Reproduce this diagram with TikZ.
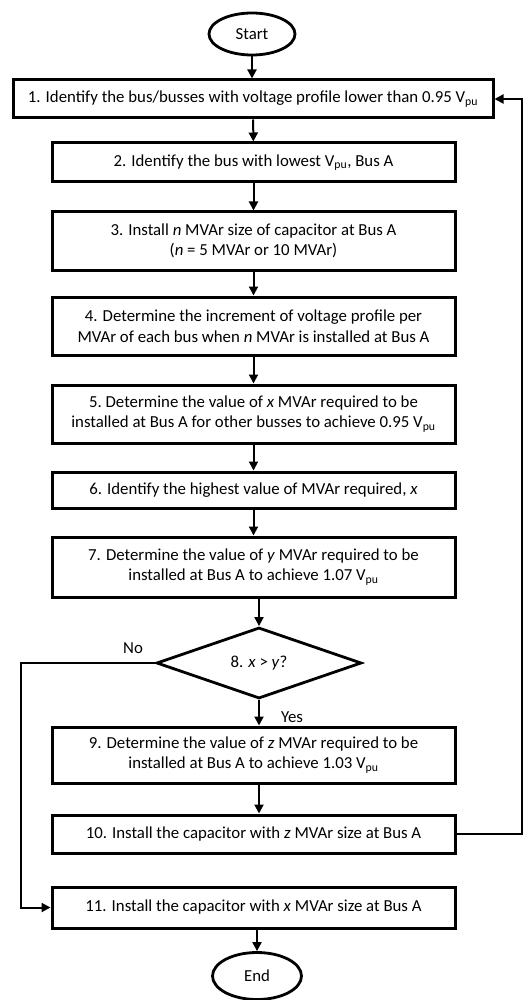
\documentclass[tikz,border=0pt]{standalone}
\usepackage{fontspec}
\setmainfont{Carlito}
\usepackage{tikz}
\usetikzlibrary{arrows.meta,positioning,shapes.geometric}

\begin{document}
\begin{tikzpicture}[x=1pt,y=-1pt,
  stepbox/.style={rectangle,draw=black,line width=3pt,minimum width=403pt,align=center,inner sep=0pt},
  term/.style={ellipse,draw=black,line width=2.8pt,inner sep=0pt},
  decide/.style={diamond,draw=black,line width=2.8pt,minimum width=205pt,minimum height=71pt,inner sep=0pt},
  lab/.style={inner sep=0pt},
  arr/.style={->,line width=2pt},
  >={Triangle[length=9pt,width=9pt]},
  font=\fontsize{16.8}{20.5}\selectfont]

  \useasboundingbox (0,0) rectangle (522,1000);

  % terminals
  \node[term,minimum width=86pt,minimum height=42pt] (start) at (252,34) {Start};
  \node[term,minimum width=89pt,minimum height=47pt] (end) at (257,976) {End};

  % process steps
  \node[stepbox,minimum width=480pt,minimum height=38pt] (s1) at (253,99)
    {1. Identify the bus/busses with voltage profile lower than 0.95 V\textsubscript{pu}};
  \node[stepbox,minimum height=39pt] (s2) at (253.5,162.5)
    {2. Identify the bus with lowest V\textsubscript{pu}, Bus A};
  \node[stepbox,minimum height=58pt] (s3) at (253.5,241)
    {3. Install \textit{n} MVAr size of capacitor at Bus A\\(\textit{n} = 5 MVAr or 10 MVAr)};
  \node[stepbox,minimum height=58pt] (s4) at (253.5,326)
    {4. Determine the increment of voltage profile per\\MVAr of each bus when \textit{n} MVAr is installed at Bus A};
  \node[stepbox,minimum height=58pt] (s5) at (253.5,414)
    {5.\ Determine the value of \textit{x} MVAr required to be\\installed at Bus A for other busses to achieve 0.95 V\textsubscript{pu}};
  \node[stepbox,minimum height=36pt] (s6) at (253.5,490)
    {6. Identify the highest value of MVAr required, \textit{x}};
  \node[stepbox,minimum height=60pt] (s7) at (253.5,567)
    {7. Determine the value of \textit{y} MVAr required to be\\installed at Bus A to achieve 1.07 V\textsubscript{pu}};
  \node[decide] (dec) at (259,663) {8. \textit{x} > \textit{y}?};
  \node[stepbox,minimum height=56pt] (s9) at (253.5,755)
    {9. Determine the value of \textit{z} MVAr required to be\\installed at Bus A to achieve 1.03 V\textsubscript{pu}};
  \node[stepbox,minimum height=38pt] (s10) at (253.5,834)
    {10. Install the capacitor with \textit{z} MVAr size at Bus A};
  \node[stepbox,minimum height=41pt] (s11) at (253.5,907.5)
    {11. Install the capacitor with \textit{x} MVAr size at Bus A};

  % branch labels
  \node[lab] (no) at (133,648) {No};
  \node[lab] (yes) at (292,717) {Yes};

  % main flow
  \draw[arr] (start) -- (start |- s1.north);
  \draw[arr] (s1) -- (s2);
  \draw[arr] (s2) -- (s3);
  \draw[arr] (s3) -- (s4);
  \draw[arr] (s4) -- (s5);
  \draw[arr] (s5) -- (s6);
  \draw[arr] (s6) -- (s7);
  \draw[arr] (s7.south -| dec) -- (dec.north);
  \draw[arr] (dec.south) -- (s9.north -| dec);
  \draw[arr] (s9.south -| dec) -- (s10.north -| dec);
  \draw[arr] (s11.south -| end) -- (end);

  % loops
  \draw[arr] (dec.west) -- ++(-134,0) |- (s11.west);
  \draw[arr] (s10.east) -- ++(65,0) |- (s1.east);

\end{tikzpicture}
\end{document}
